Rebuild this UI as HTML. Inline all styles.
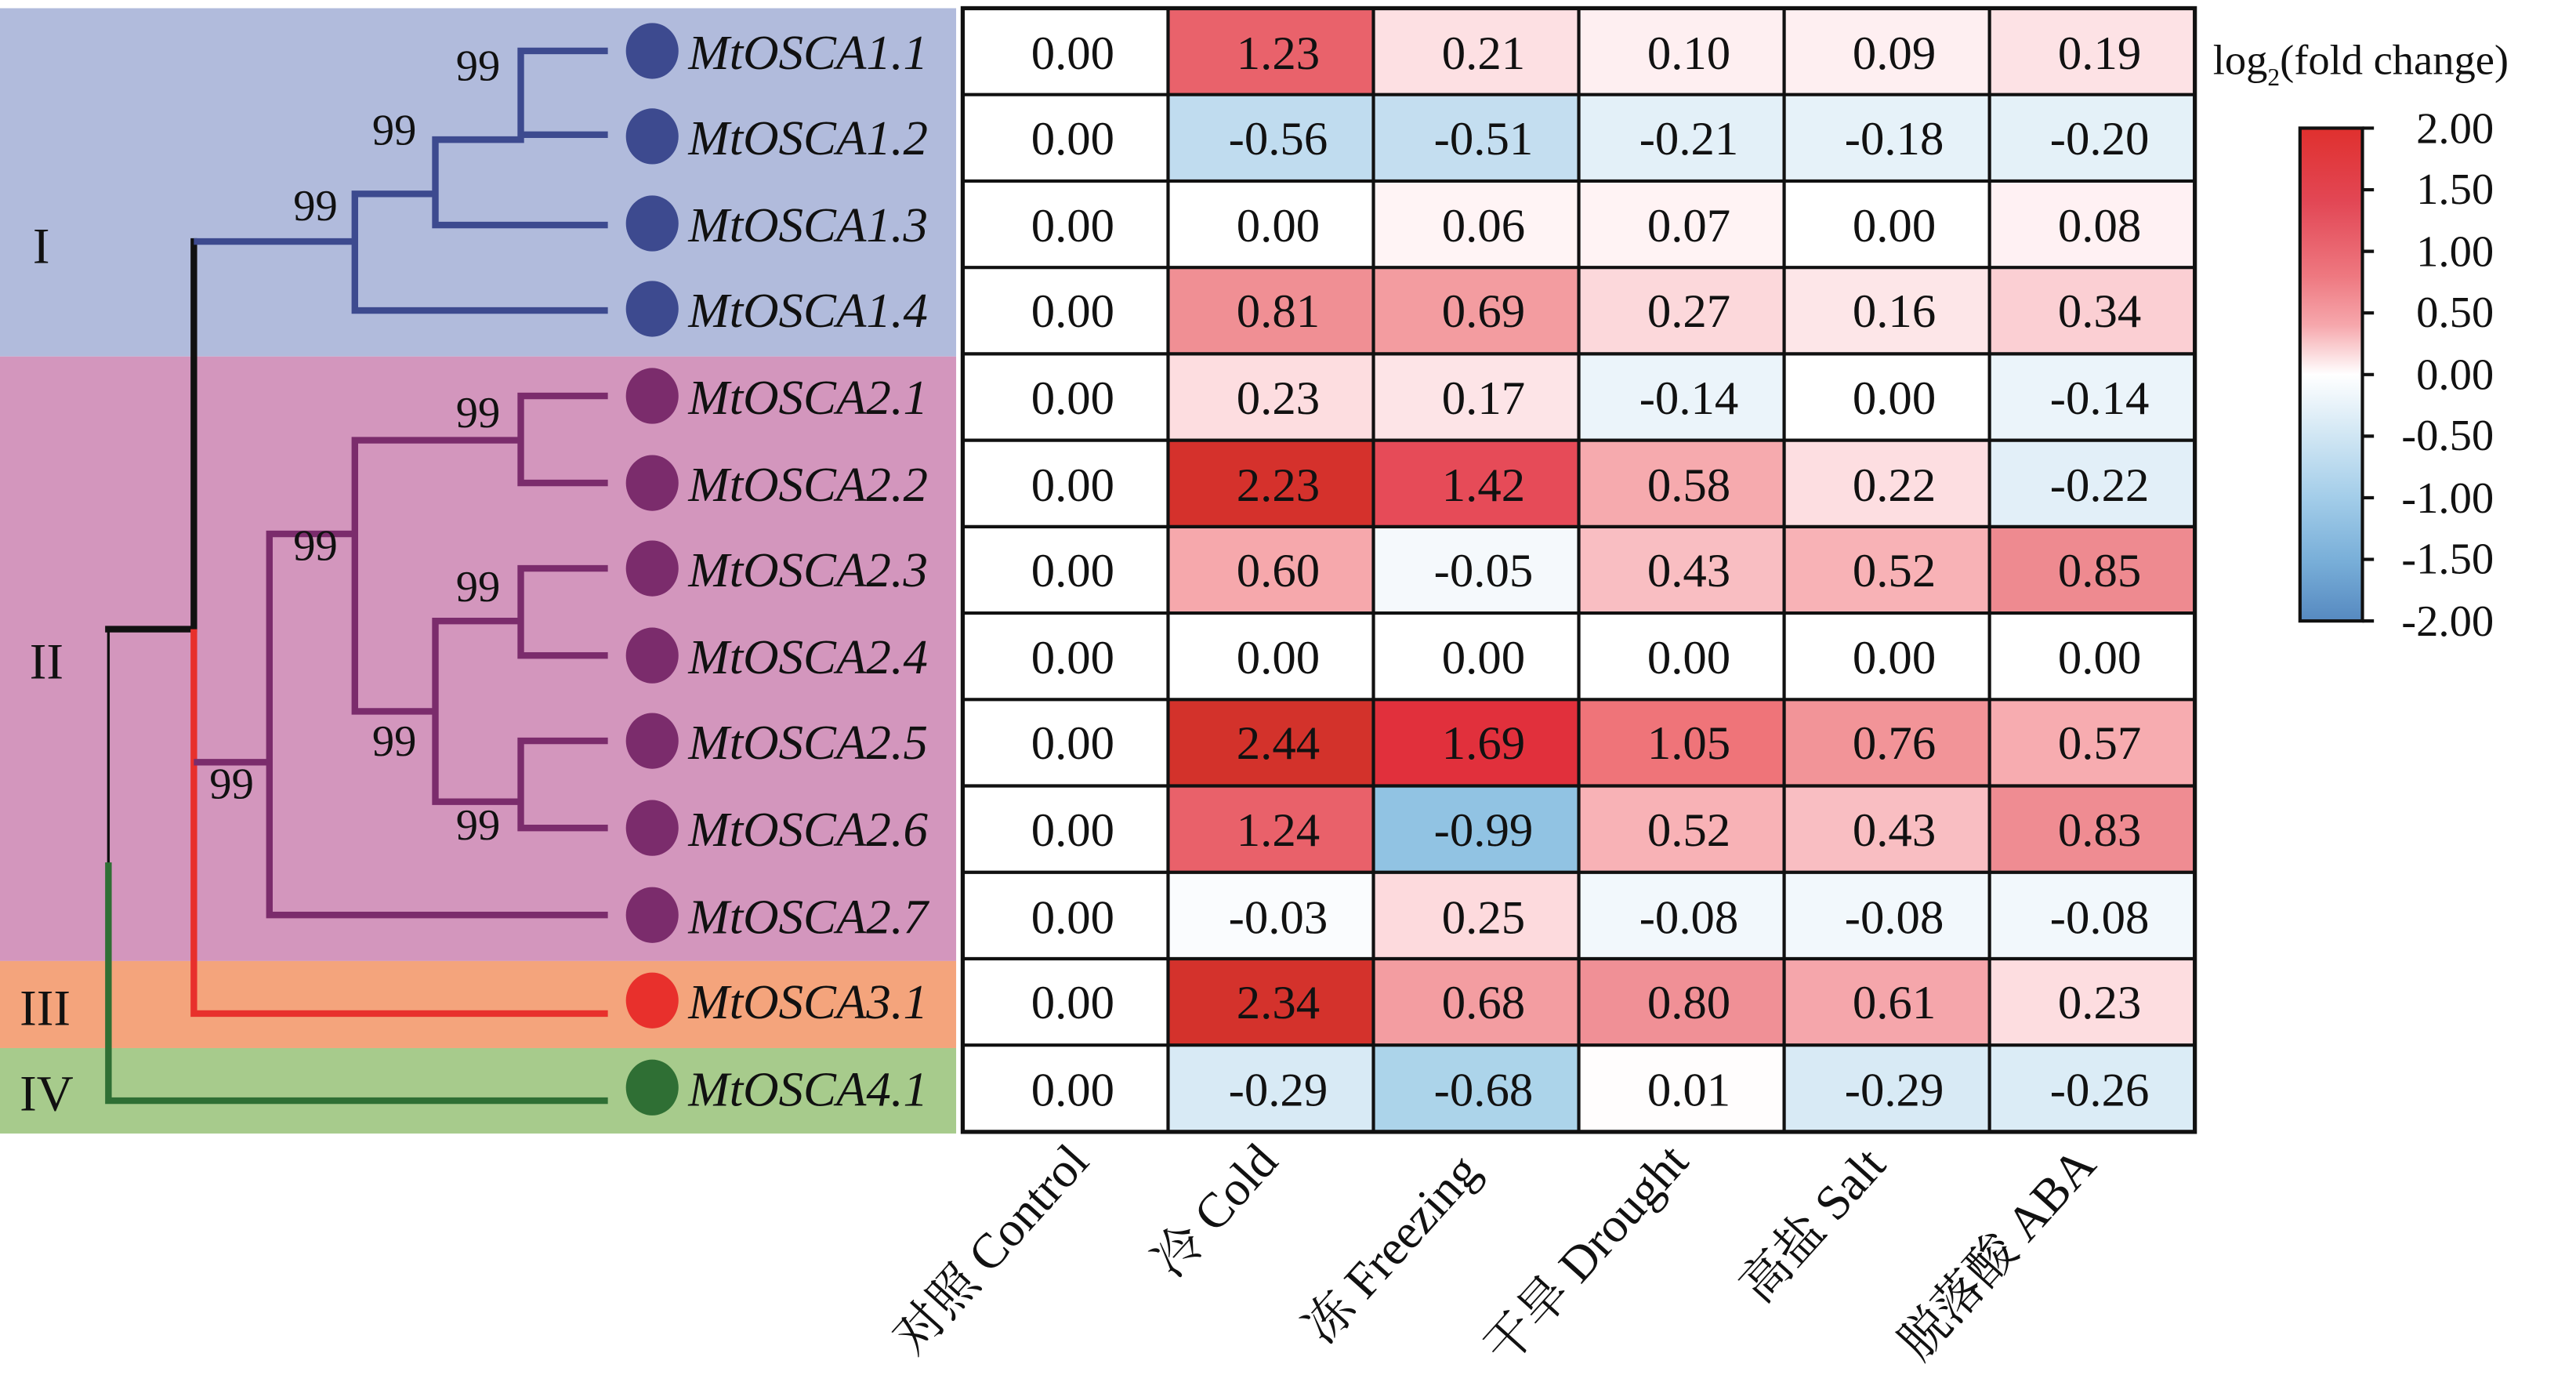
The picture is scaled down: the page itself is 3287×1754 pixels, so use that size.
<!DOCTYPE html>
<html><head><meta charset="utf-8"><style>html,body{margin:0;padding:0;background:#fff;}svg{display:block}</style></head>
<body>
<svg width="3287" height="1754" viewBox="0 0 1568 837" preserveAspectRatio="none" xmlns="http://www.w3.org/2000/svg" font-family="Liberation Serif, Noto Serif CJK SC, serif">
<rect x="0" y="0" width="1568" height="837" fill="#fff"/>
<rect x="0" y="5" width="582" height="212" fill="#b1bbdc"/>
<rect x="0" y="217" width="582" height="368" fill="#d396bd"/>
<rect x="0" y="585" width="582" height="53" fill="#f4a47c"/>
<rect x="0" y="638" width="582" height="52" fill="#a7cb8c"/>
<g font-size="31" fill="#111">
<text x="20" y="160">I</text><text x="18" y="413">II</text><text x="12" y="624">III</text><text x="12" y="676">IV</text>
</g>
<g fill="none" stroke-linecap="square">
<path d="M66 383 V527" stroke="#111" stroke-width="1.6"/>
<path d="M66 527 V670 H368" stroke="#2f6f34" stroke-width="4"/>
<path d="M66 383 H118 V147" stroke="#111" stroke-width="4"/>
<path d="M118 385 V617 H368" stroke="#e8302c" stroke-width="4"/>
<g stroke="#3d4a8f" stroke-width="4">
<path d="M120 147 H216 M216 118 V189 H368 M216 118 H265 M265 85 V137 H368 M265 85 H317 M317 31 V82 M317 31 H368 M317 82 H368"/>
</g>
<g stroke="#7b2c6c" stroke-width="4">
<path d="M120 464 H164 M164 325 V557 H368 M164 325 H216 M216 268 V433 M216 268 H317 M317 241 V294 M317 241 H368 M317 294 H368 M216 433 H265 M265 378 V488 M265 378 H317 M317 346 V399 M317 346 H368 M317 399 H368 M265 488 H317 M317 451 V504 M317 451 H368 M317 504 H368"/>
</g>
</g>
<g font-size="27" fill="#111" text-anchor="middle">
<text x="291" y="49">99</text><text x="240" y="88">99</text><text x="192" y="134">99</text>
<text x="291" y="260">99</text><text x="192" y="341">99</text><text x="291" y="366">99</text>
<text x="240" y="460">99</text><text x="291" y="511">99</text><text x="141" y="486">99</text>
</g>
<g>
<ellipse cx="397" cy="31" rx="16" ry="17" fill="#3d4a8f"/><ellipse cx="397" cy="83" rx="16" ry="17" fill="#3d4a8f"/>
<ellipse cx="397" cy="136" rx="16" ry="17" fill="#3d4a8f"/><ellipse cx="397" cy="188" rx="16" ry="17" fill="#3d4a8f"/>
<ellipse cx="397" cy="241" rx="16" ry="17" fill="#7b2c6c"/><ellipse cx="397" cy="294" rx="16" ry="17" fill="#7b2c6c"/>
<ellipse cx="397" cy="346" rx="16" ry="17" fill="#7b2c6c"/><ellipse cx="397" cy="399" rx="16" ry="17" fill="#7b2c6c"/>
<ellipse cx="397" cy="451" rx="16" ry="17" fill="#7b2c6c"/><ellipse cx="397" cy="504" rx="16" ry="17" fill="#7b2c6c"/>
<ellipse cx="397" cy="557" rx="16" ry="17" fill="#7b2c6c"/><ellipse cx="397" cy="609" rx="16" ry="17" fill="#e8302c"/>
<ellipse cx="397" cy="662" rx="16" ry="17" fill="#2f6f34"/>
</g>
<g font-size="30" font-style="italic" fill="#111">
<text x="419" y="42">MtOSCA1.1</text><text x="419" y="94">MtOSCA1.2</text><text x="419" y="147">MtOSCA1.3</text><text x="419" y="199">MtOSCA1.4</text>
<text x="419" y="252">MtOSCA2.1</text><text x="419" y="305">MtOSCA2.2</text><text x="419" y="357">MtOSCA2.3</text><text x="419" y="410">MtOSCA2.4</text>
<text x="419" y="462">MtOSCA2.5</text><text x="419" y="515">MtOSCA2.6</text><text x="419" y="568">MtOSCA2.7</text><text x="419" y="620">MtOSCA3.1</text>
<text x="419" y="673">MtOSCA4.1</text>
</g>
<g>
<rect x="711" y="5" width="125" height="52.6" fill="#e9626b"/><rect x="836" y="5" width="125" height="52.6" fill="#fde0e3"/><rect x="961" y="5" width="125" height="52.6" fill="#feeff1"/><rect x="1086" y="5" width="125" height="52.6" fill="#feeff1"/><rect x="1211" y="5" width="125" height="52.6" fill="#fde2e5"/>
<rect x="711" y="57.6" width="125" height="52.6" fill="#c0dcef"/><rect x="836" y="57.6" width="125" height="52.6" fill="#c4def0"/><rect x="961" y="57.6" width="125" height="52.6" fill="#e3f0f8"/><rect x="1086" y="57.6" width="125" height="52.6" fill="#e6f2f9"/><rect x="1211" y="57.6" width="125" height="52.6" fill="#e4f1f8"/>
<rect x="836" y="110.2" width="125" height="52.6" fill="#fff4f5"/><rect x="961" y="110.2" width="125" height="52.6" fill="#fff3f4"/><rect x="1211" y="110.2" width="125" height="52.6" fill="#fff1f3"/>
<rect x="711" y="162.8" width="125" height="52.6" fill="#f08f94"/><rect x="836" y="162.8" width="125" height="52.6" fill="#f39ca0"/><rect x="961" y="162.8" width="125" height="52.6" fill="#fcd8db"/><rect x="1086" y="162.8" width="125" height="52.6" fill="#fde6e8"/><rect x="1211" y="162.8" width="125" height="52.6" fill="#fbcfd3"/>
<rect x="711" y="215.4" width="125" height="52.6" fill="#fddde0"/><rect x="836" y="215.4" width="125" height="52.6" fill="#fde4e7"/><rect x="961" y="215.4" width="125" height="52.6" fill="#ebf4fa"/><rect x="1211" y="215.4" width="125" height="52.6" fill="#ebf4fa"/>
<rect x="711" y="268" width="125" height="52.6" fill="#d5312c"/><rect x="836" y="268" width="125" height="52.6" fill="#e64b58"/><rect x="961" y="268" width="125" height="52.6" fill="#f6aaae"/><rect x="1086" y="268" width="125" height="52.6" fill="#fddee1"/><rect x="1211" y="268" width="125" height="52.6" fill="#e2eff8"/>
<rect x="711" y="320.6" width="125" height="52.6" fill="#f6a8ac"/><rect x="836" y="320.6" width="125" height="52.6" fill="#f5f9fc"/><rect x="961" y="320.6" width="125" height="52.6" fill="#f9bec2"/><rect x="1086" y="320.6" width="125" height="52.6" fill="#f8b2b6"/><rect x="1211" y="320.6" width="125" height="52.6" fill="#ee8a90"/>
<rect x="711" y="425.8" width="125" height="52.6" fill="#d3322b"/><rect x="836" y="425.8" width="125" height="52.6" fill="#e1303c"/><rect x="961" y="425.8" width="125" height="52.6" fill="#ef7479"/><rect x="1086" y="425.8" width="125" height="52.6" fill="#f29498"/><rect x="1211" y="425.8" width="125" height="52.6" fill="#f7acb0"/>
<rect x="711" y="478.4" width="125" height="52.6" fill="#e9616a"/><rect x="836" y="478.4" width="125" height="52.6" fill="#91c3e3"/><rect x="961" y="478.4" width="125" height="52.6" fill="#f8b2b6"/><rect x="1086" y="478.4" width="125" height="52.6" fill="#f9bec2"/><rect x="1211" y="478.4" width="125" height="52.6" fill="#ef8c92"/>
<rect x="711" y="531" width="125" height="52.6" fill="#fafcfe"/><rect x="836" y="531" width="125" height="52.6" fill="#fddadd"/><rect x="961" y="531" width="125" height="52.6" fill="#f2f8fc"/><rect x="1086" y="531" width="125" height="52.6" fill="#f2f8fc"/><rect x="1211" y="531" width="125" height="52.6" fill="#f2f8fc"/>
<rect x="711" y="583.6" width="125" height="52.6" fill="#d4322c"/><rect x="836" y="583.6" width="125" height="52.6" fill="#f39da1"/><rect x="961" y="583.6" width="125" height="52.6" fill="#f09096"/><rect x="1086" y="583.6" width="125" height="52.6" fill="#f5a6ab"/><rect x="1211" y="583.6" width="125" height="52.6" fill="#fddde0"/>
<rect x="711" y="636.2" width="125" height="52.6" fill="#d8eaf5"/><rect x="836" y="636.2" width="125" height="52.6" fill="#acd4ea"/><rect x="961" y="636.2" width="125" height="52.6" fill="#fffdfd"/><rect x="1086" y="636.2" width="125" height="52.6" fill="#d8eaf5"/><rect x="1211" y="636.2" width="125" height="52.6" fill="#dbecf6"/>
</g>
<g stroke="#111" stroke-width="2" fill="none">
<path d="M586 57.6H1336M586 110.2H1336M586 162.8H1336M586 215.4H1336M586 268H1336M586 320.6H1336M586 373.2H1336M586 425.8H1336M586 478.4H1336M586 531H1336M586 583.6H1336M586 636.2H1336"/>
<path d="M711 5V689M836 5V689M961 5V689M1086 5V689M1211 5V689"/>
<rect x="586" y="5" width="750" height="684" stroke-width="2.5"/>
</g>
<g font-size="29" fill="#111" text-anchor="middle">
<text y="42"><tspan x="653">0.00</tspan><tspan x="778">1.23</tspan><tspan x="903">0.21</tspan><tspan x="1028">0.10</tspan><tspan x="1153">0.09</tspan><tspan x="1278">0.19</tspan></text>
<text y="94"><tspan x="653">0.00</tspan><tspan x="778">-0.56</tspan><tspan x="903">-0.51</tspan><tspan x="1028">-0.21</tspan><tspan x="1153">-0.18</tspan><tspan x="1278">-0.20</tspan></text>
<text y="147"><tspan x="653">0.00</tspan><tspan x="778">0.00</tspan><tspan x="903">0.06</tspan><tspan x="1028">0.07</tspan><tspan x="1153">0.00</tspan><tspan x="1278">0.08</tspan></text>
<text y="199"><tspan x="653">0.00</tspan><tspan x="778">0.81</tspan><tspan x="903">0.69</tspan><tspan x="1028">0.27</tspan><tspan x="1153">0.16</tspan><tspan x="1278">0.34</tspan></text>
<text y="252"><tspan x="653">0.00</tspan><tspan x="778">0.23</tspan><tspan x="903">0.17</tspan><tspan x="1028">-0.14</tspan><tspan x="1153">0.00</tspan><tspan x="1278">-0.14</tspan></text>
<text y="305"><tspan x="653">0.00</tspan><tspan x="778">2.23</tspan><tspan x="903">1.42</tspan><tspan x="1028">0.58</tspan><tspan x="1153">0.22</tspan><tspan x="1278">-0.22</tspan></text>
<text y="357"><tspan x="653">0.00</tspan><tspan x="778">0.60</tspan><tspan x="903">-0.05</tspan><tspan x="1028">0.43</tspan><tspan x="1153">0.52</tspan><tspan x="1278">0.85</tspan></text>
<text y="410"><tspan x="653">0.00</tspan><tspan x="778">0.00</tspan><tspan x="903">0.00</tspan><tspan x="1028">0.00</tspan><tspan x="1153">0.00</tspan><tspan x="1278">0.00</tspan></text>
<text y="462"><tspan x="653">0.00</tspan><tspan x="778">2.44</tspan><tspan x="903">1.69</tspan><tspan x="1028">1.05</tspan><tspan x="1153">0.76</tspan><tspan x="1278">0.57</tspan></text>
<text y="515"><tspan x="653">0.00</tspan><tspan x="778">1.24</tspan><tspan x="903">-0.99</tspan><tspan x="1028">0.52</tspan><tspan x="1153">0.43</tspan><tspan x="1278">0.83</tspan></text>
<text y="568"><tspan x="653">0.00</tspan><tspan x="778">-0.03</tspan><tspan x="903">0.25</tspan><tspan x="1028">-0.08</tspan><tspan x="1153">-0.08</tspan><tspan x="1278">-0.08</tspan></text>
<text y="620"><tspan x="653">0.00</tspan><tspan x="778">2.34</tspan><tspan x="903">0.68</tspan><tspan x="1028">0.80</tspan><tspan x="1153">0.61</tspan><tspan x="1278">0.23</tspan></text>
<text y="673"><tspan x="653">0.00</tspan><tspan x="778">-0.29</tspan><tspan x="903">-0.68</tspan><tspan x="1028">0.01</tspan><tspan x="1153">-0.29</tspan><tspan x="1278">-0.26</tspan></text>
</g>
<g font-size="30" fill="#111" text-anchor="end">
<text transform="translate(664,708) rotate(-48)">对照 Control</text>
<text transform="translate(779,708) rotate(-48)">冷 Cold</text>
<text transform="translate(902,714) rotate(-48)">冻 Freezing</text>
<text transform="translate(1029,708) rotate(-48)">干旱 Drought</text>
<text transform="translate(1149,710) rotate(-48)">高盐 Salt</text>
<text transform="translate(1277,710) rotate(-48)">脱落酸 ABA</text>
</g>
<defs><linearGradient id="cb" x1="0" y1="0" x2="0" y2="1">
<stop offset="0" stop-color="#e0302e"/><stop offset="0.15" stop-color="#e24755"/><stop offset="0.3" stop-color="#ee7880"/><stop offset="0.4" stop-color="#f6a7ac"/><stop offset="0.5" stop-color="#ffffff"/><stop offset="0.62" stop-color="#d2e7f4"/><stop offset="0.75" stop-color="#a3cde9"/><stop offset="0.88" stop-color="#78aed8"/><stop offset="1" stop-color="#5689c0"/>
</linearGradient></defs>
<rect x="1400" y="78" width="38" height="300" fill="url(#cb)" stroke="#111" stroke-width="2"/>
<g stroke="#111" stroke-width="2"><path d="M1438 78h7M1438 115.5h7M1438 153h7M1438 190.5h7M1438 228h7M1438 265.5h7M1438 303h7M1438 340.5h7M1438 378h7"/></g>
<g font-size="27" fill="#111" text-anchor="end">
<text x="1518" y="87">2.00</text><text x="1518" y="124">1.50</text><text x="1518" y="162">1.00</text><text x="1518" y="199">0.50</text><text x="1518" y="237">0.00</text><text x="1518" y="274">-0.50</text><text x="1518" y="312">-1.00</text><text x="1518" y="349">-1.50</text><text x="1518" y="387">-2.00</text>
</g>
<text x="1347" y="45" font-size="26" fill="#111">log<tspan font-size="15" dy="7">2</tspan><tspan dy="-7">(fold change)</tspan></text>
</svg>
</body></html>
